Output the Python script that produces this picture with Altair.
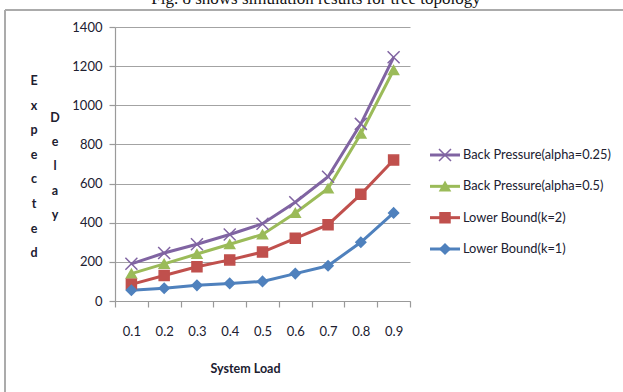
import altair as alt
import pandas as pd

# System load levels (x categories)
loads = ["0.1", "0.2", "0.3", "0.4", "0.5", "0.6", "0.7", "0.8", "0.9"]

# Series names, in legend order (top to bottom)
series_names = [
    "Back Pressure(alpha=0.25)",
    "Back Pressure(alpha=0.5)",
    "Lower Bound(k=2)",
    "Lower Bound(k=1)",
]

# Expected delay for each series
bp_025 = [190, 245, 290, 340, 395, 505, 635, 905, 1245]
bp_05 = [140, 190, 240, 290, 340, 450, 575, 855, 1180]
lb_k2 = [85, 130, 175, 210, 250, 320, 390, 545, 720]
lb_k1 = [55, 65, 80, 90, 100, 140, 180, 300, 450]

series_values = [bp_025, bp_05, lb_k2, lb_k1]
series_colors = ["#8064A2", "#9BBB59", "#C0504D", "#4F81BD"]
series_shapes = [
    "M-1.2,-1.2L1.2,1.2M-1.2,1.2L1.2,-1.2",  # x marker
    "triangle-up",
    "square",
    "diamond",
]

y_ticks = [0, 200, 400, 600, 800, 1000, 1200, 1400]

rows = []
for name, vals in zip(series_names, series_values):
    for load, v in zip(loads, vals):
        rows.append({"series": name, "load": load, "delay": v})
df = pd.DataFrame(rows)
legend_df = pd.DataFrame({"series": series_names})
one = pd.DataFrame({"k": [0]})

FONT = "Lato"
TXT = "#202030"

color = alt.Color("series:N", scale=alt.Scale(domain=series_names, range=series_colors), legend=None)
stroke = alt.Stroke("series:N", scale=alt.Scale(domain=series_names, range=series_colors), legend=None)
shape = alt.Shape("series:N", scale=alt.Scale(domain=series_names, range=series_shapes), legend=None)

x_enc = alt.X(
    "load:O",
    sort=loads,
    bandPosition=0.5,
    scale=alt.Scale(type="band", paddingInner=0, paddingOuter=0),
    axis=alt.Axis(
        title="System Load",
        tickBand="extent",
        labelAngle=0,
        tickSize=6,
        labelPadding=18,
        labelFontSize=13,
        titleX=130,
        titleY=67,
        titleBaseline="middle",
        titleFontSize=12.5,
        titleFontWeight="bold",
    ),
)

y_scale = alt.Scale(domain=[0, 1400], nice=False)

lines = alt.Chart(df).mark_line(strokeWidth=3).encode(
    x=x_enc,
    y=alt.Y(
        "delay:Q",
        scale=y_scale,
        axis=alt.Axis(values=y_ticks, format="d", title=None, tickSize=6, labelPadding=7,
                      labelFontSize=13, grid=True),
    ),
    color=color,
    order=alt.Order("load:O"),
)

points = alt.Chart(df).mark_point(filled=True, opacity=1, size=100, strokeWidth=1.5).encode(
    x=x_enc,
    y=alt.Y("delay:Q", scale=y_scale, axis=None),
    color=color,
    stroke=stroke,
    shape=shape,
)

# Legend drawn as its own layer to the right of the plot
leg_y = alt.Y(
    "series:N",
    sort=series_names,
    scale=alt.Scale(type="point", domain=series_names, range=[128, 222], padding=0),
    axis=None,
)
leg_rule = alt.Chart(legend_df).mark_rule(strokeWidth=3).encode(
    x=alt.value(315), x2=alt.value(345), y=leg_y, color=color
)
leg_pt = alt.Chart(legend_df).mark_point(filled=True, opacity=1, size=100, strokeWidth=1.5).encode(
    x=alt.value(330), y=leg_y, color=color, stroke=stroke, shape=shape
)
leg_txt = alt.Chart(legend_df).mark_text(
    align="left", baseline="middle", font=FONT, fontSize=12.8, color=TXT
).encode(x=alt.value(348), y=leg_y, text="series:N")

# Vertical, letter-stacked y-axis title
ylab_expected = alt.Chart(one).mark_text(
    text=list("Expected"), align="center", baseline="alphabetic", lineHeight=24.6,
    font=FONT, fontSize=12.5, fontWeight="bold", color=TXT,
).encode(x=alt.value(-81), y=alt.value(58))
ylab_delay = alt.Chart(one).mark_text(
    text=list("Delay"), align="center", baseline="alphabetic", lineHeight=24.2,
    font=FONT, fontSize=12.5, fontWeight="bold", color=TXT,
).encode(x=alt.value(-60), y=alt.value(95))

# Frame edges and the caption line above
border_top = alt.Chart(one).mark_rule(color="#ababab", strokeWidth=2).encode(
    x=alt.value(-110), x2=alt.value(520), y=alt.value(-17)
)
border_left = alt.Chart(one).mark_rule(color="#ababab", strokeWidth=2).encode(
    x=alt.value(-110), y=alt.value(-17), y2=alt.value(380)
)
caption = alt.Chart(one).mark_text(
    text="Fig. 8 shows simulation results for tree topology",
    align="center", baseline="alphabetic", font="Liberation Serif", fontSize=17, color="#111",
).encode(x=alt.value(201), y=alt.value(-23))

chart = (
    alt.layer(
        border_top, border_left, caption, ylab_expected, ylab_delay,
        lines, points, leg_rule, leg_pt, leg_txt,
    )
    .resolve_scale(y="independent")
    .properties(
        width=295,
        height=274,
        autosize=alt.AutoSizeParams(type="none"),
        padding={"left": 115, "top": 27, "right": 213, "bottom": 91},
    )
    .configure_view(stroke=None)
    .configure_axis(
        domainColor="#9a9a9a",
        tickColor="#9a9a9a",
        gridColor="#a3a3a3",
        domainWidth=1.2,
        tickWidth=1.2,
        gridWidth=1.2,
        labelFont=FONT,
        titleFont=FONT,
        labelColor=TXT,
        titleColor=TXT,
    )
)

chart.save("out.html", embed_options={"renderer": "svg", "actions": False})
